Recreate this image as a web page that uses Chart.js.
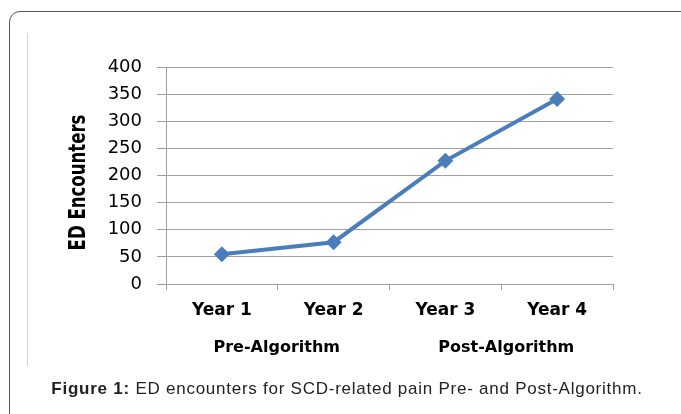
<!DOCTYPE html>
<html>
<head>
<meta charset="utf-8">
<script src="https://cdn.jsdelivr.net/npm/chart.js@4.4.0/dist/chart.umd.min.js"></script>
<style>
  html, body { margin: 0; padding: 0; background: #fff; }
  #wrap { position: relative; width: 681px; height: 414px; overflow: hidden; }
  #frame { position: absolute; left: 9px; top: 11px; width: 700px; height: 440px;
           border: 1.5px solid #555; border-radius: 11px; }
  #inner { position: absolute; left: 27px; top: 33px; width: 0; height: 333px;
           border-left: 1px solid #d4d4d4; }
  #chart { position: absolute; left: 0; top: 0; }
  #caption { position: absolute; left: 0; width: 694px; top: 379px; text-align: center;
             font-family: "Liberation Sans", Arial, sans-serif; font-size: 17px; color: #222;
             letter-spacing: 0.75px; }
</style>
</head>
<body>
<div id="wrap">
  <div id="frame"></div>
  <div id="inner"></div>
  <canvas id="chart" width="681" height="414"></canvas>
  <div id="caption"><b>Figure 1:</b> ED encounters for SCD-related pain Pre- and Post-Algorithm.</div>
</div>
<script>
// 数据
const years = ['Year 1', 'Year 2', 'Year 3', 'Year 4'];
const encounters = [55, 77, 227, 341];
const yTicks = [0, 50, 100, 150, 200, 250, 300, 350, 400];
const yTitle = 'ED Encounters';
const groupLabels = ['Pre-Algorithm', 'Post-Algorithm'];
const groupRanges = [[0, 1], [2, 3]];

// 分组标签 (Pre / Post) 与纵轴标题
const groupPlugin = {
    id: 'groupLabels',
    afterDraw(chart) {
        const ctx = chart.ctx;
        const x = chart.scales.x;
        const y = chart.scales.y;
        ctx.save();
        ctx.font = 'bold 16px "DejaVu Sans", sans-serif';
        ctx.fillStyle = '#000';
        ctx.textAlign = 'center';
        ctx.textBaseline = 'middle';
        groupLabels.forEach((lbl, i) => {
            const [a, b] = groupRanges[i];
            const cx = (x.getPixelForValue(a) + x.getPixelForValue(b)) / 2;
            ctx.fillText(lbl, cx + (i === 1 ? 5 : -1), 348);
        });
        // 纵轴标题 (压扁一点，接近原图的窄体字)
        ctx.translate(79, (y.top + y.bottom) / 2 + 7);
        ctx.rotate(-Math.PI / 2);
        ctx.scale(0.8, 1);
        ctx.font = 'bold 23px "DejaVu Sans Condensed", "DejaVu Sans", sans-serif';
        ctx.fillText(yTitle, 0, 0);
        ctx.restore();
    }
};

new Chart(document.getElementById('chart'), {
    type: 'line',
    data: {
        labels: years,
        datasets: [{
            data: encounters,
            borderColor: '#4a7ebb',
            backgroundColor: '#4a7ebb',
            borderWidth: 4,
            pointStyle: 'rectRot',
            pointRadius: 8,
            pointBorderWidth: 0,
            tension: 0
        }]
    },
    options: {
        responsive: false,
        animation: false,
        layout: { padding: { left: 60, right: 68, top: 67, bottom: 94 } },
        plugins: { legend: { display: false }, tooltip: { enabled: false } },
        scales: {
            x: {
                offset: true,
                grid: { offset: true, drawOnChartArea: false, color: '#a0a0a0', tickLength: 6, lineWidth: 1 },
                border: { color: '#a0a0a0', width: 1 },
                ticks: { color: '#000', padding: 10, font: { family: '"DejaVu Sans", sans-serif', size: 17, weight: 'bold' } },
                afterFit(scale) { scale.height = 36; }
            },
            y: {
                min: 0,
                max: 400,
                afterBuildTicks(scale) { scale.ticks = yTicks.map(v => ({ value: v })); },
                grid: { color: '#a0a0a0', tickLength: 9, lineWidth: 1 },
                border: { color: '#a0a0a0', width: 1 },
                ticks: { color: '#000', padding: 15, font: { family: '"DejaVu Sans", sans-serif', size: 18 } },
                afterFit(scale) { scale.width = 106; }
            }
        }
    },
    plugins: [groupPlugin]
});
</script>
</body>
</html>
